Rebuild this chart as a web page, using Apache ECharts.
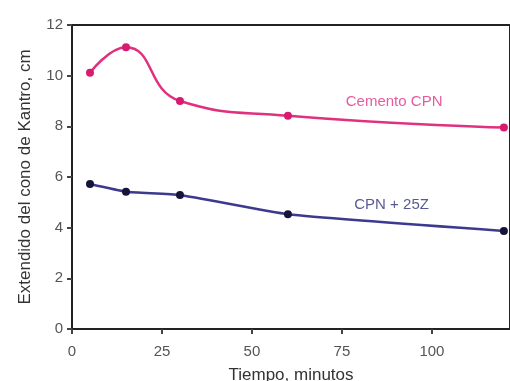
<!DOCTYPE html>
<html>
<head>
<meta charset="utf-8">
<script src="https://cdn.jsdelivr.net/npm/echarts@6/dist/echarts.min.js"></script>
<style>
  html, body { margin: 0; padding: 0; background: #fff; }
  #chart { width: 510px; height: 381px; }
</style>
</head>
<body>
<div id="chart"></div>
<script>
// datos
var tiempos = [5, 15, 30, 60, 120];
var cementoCPN = [10.12, 11.12, 9.0, 8.42, 7.95];
var cpn25Z = [5.72, 5.42, 5.29, 4.53, 3.87];
var etiquetas = ['Cemento CPN', 'CPN + 25Z'];
var posEtiquetas = [[89.5, 8.97], [88.8, 4.9]];

function pares(xs, ys) {
    var out = [];
    for (var i = 0; i < xs.length; i++) out.push([xs[i], ys[i]]);
    return out;
}

var myChart = echarts.init(document.getElementById('chart'));
var font = 'Liberation Sans, Arial, sans-serif';

var option = {
    animation: false,
    grid: {
        left: 72, top: 25, right: 0, bottom: 52,
        outerBoundsMode: 'none',
        show: true, borderColor: '#222', borderWidth: 2
    },
    xAxis: {
        type: 'value', min: 0, max: 121.7, interval: 25,
        name: 'Tiempo, minutos', nameLocation: 'middle', nameGap: 38,
        nameTextStyle: { fontFamily: font, fontSize: 17, color: '#333' },
        splitLine: { show: false },
        axisLine: { lineStyle: { color: '#222', width: 2 } },
        axisTick: { length: 5, lineStyle: { color: '#444', width: 2 } },
        axisLabel: {
            fontFamily: font, fontSize: 15, color: '#555', margin: 15,
            showMaxLabel: false
        }
    },
    yAxis: {
        type: 'value', min: 0, max: 12, interval: 2,
        name: 'Extendido del cono de Kantro, cm', nameLocation: 'middle', nameGap: 38,
        nameTextStyle: { fontFamily: font, fontSize: 17, color: '#333' },
        splitLine: { show: false },
        axisLine: { lineStyle: { color: '#222', width: 2 } },
        axisTick: { length: 5, lineStyle: { color: '#444', width: 2 } },
        axisLabel: { fontFamily: font, fontSize: 15, color: '#555', margin: 9 }
    },
    series: [{
        type: 'line',
        smooth: 0.5,
        data: pares(tiempos, cementoCPN),
        symbol: 'circle', symbolSize: 8,
        lineStyle: { color: '#e0317f', width: 2.5 },
        itemStyle: { color: '#d81b70' },
        z: 3
    }, {
        type: 'line',
        smooth: 0.15,
        data: pares(tiempos, cpn25Z),
        symbol: 'circle', symbolSize: 8,
        lineStyle: { color: '#3b3a8f', width: 2.5 },
        itemStyle: { color: '#15153a' },
        z: 3
    }, {
        // etiquetas de las curvas
        type: 'scatter',
        data: [
            { value: posEtiquetas[0], name: etiquetas[0],
              label: { color: '#e0318a' } },
            { value: posEtiquetas[1], name: etiquetas[1],
              label: { color: '#2e2e7a' } }
        ],
        symbolSize: 1,
        itemStyle: { color: 'rgba(0,0,0,0)' },
        silent: true,
        label: {
            show: true, position: 'inside', formatter: '{b}',
            fontFamily: font, fontSize: 15
        }
    }]
};
myChart.setOption(option);
window.onresize = myChart.resize;
</script>
</body>
</html>
